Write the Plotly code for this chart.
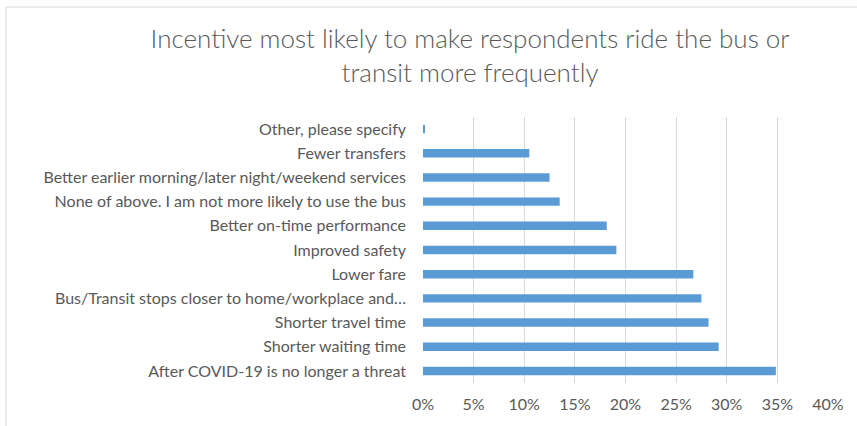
import plotly.graph_objects as go

categories = [
    "After COVID-19 is no longer a threat",
    "Shorter waiting time",
    "Shorter travel time",
    "Bus/Transit stops closer to home/workplace and…",
    "Lower fare",
    "Improved safety",
    "Better on-time performance",
    "None of above. I am not more likely to use the bus",
    "Better earlier morning/later night/weekend services",
    "Fewer transfers",
    "Other, please specify",
]
values = [0.3485, 0.292, 0.282, 0.275, 0.267, 0.191, 0.1815, 0.135, 0.125, 0.105, 0.002]
x_ticks = [0, 0.05, 0.10, 0.15, 0.20, 0.25, 0.30, 0.35, 0.40]
x_tick_labels = ["0%", "5%", "10%", "15%", "20%", "25%", "30%", "35%", "40%"]

FONT = "Lato, Open Sans, sans-serif"

fig = go.Figure(go.Bar(
    x=values, y=categories, orientation="h",
    marker=dict(color="#5B9BD5", line=dict(width=0)),
    width=0.35,
))

fig.update_layout(
    width=857, height=426,
    margin=dict(l=423, r=29, t=117, b=43, autoexpand=False),
    paper_bgcolor="white", plot_bgcolor="white",
    showlegend=False,
    title=dict(
        text="Incentive most likely to make respondents ride the bus or<br>transit more frequently",
        x=470 / 857, xanchor="center", xref="container",
        y=1 - 48 / 426, yanchor="middle", yref="container",
        font=dict(family=FONT, size=26, color="#595959", weight=300),
    ),
    font=dict(family=FONT, color="#595959", size=16),
    xaxis=dict(
        range=[0, 0.4], tickvals=x_ticks, ticktext=x_tick_labels,
        showgrid=True, gridcolor="#D9D9D9", gridwidth=1,
        zeroline=False, showline=False, ticks="",
        tickfont=dict(size=16, color="#595959"),
        ticklabelstandoff=10,
        fixedrange=True,
    ),
    yaxis=dict(
        showgrid=False, zeroline=False, showline=False, ticks="",
        tickfont=dict(size=16, color="#595959"),
        ticklabelstandoff=16,
        categoryorder="array", categoryarray=categories,
        fixedrange=True,
    ),
    shapes=[dict(
        type="rect", xref="paper", yref="paper",
        x0=(6 - 423) / 405, x1=1 + 60 / 405, y0=-100 / 266, y1=(383 - 7) / 266,
        line=dict(color="#D9D9D9", width=1), fillcolor="rgba(0,0,0,0)",
    )],
)

fig.write_html("out.html", post_script="document.body.style.margin='0px';",
               config={"displayModeBar": False})
